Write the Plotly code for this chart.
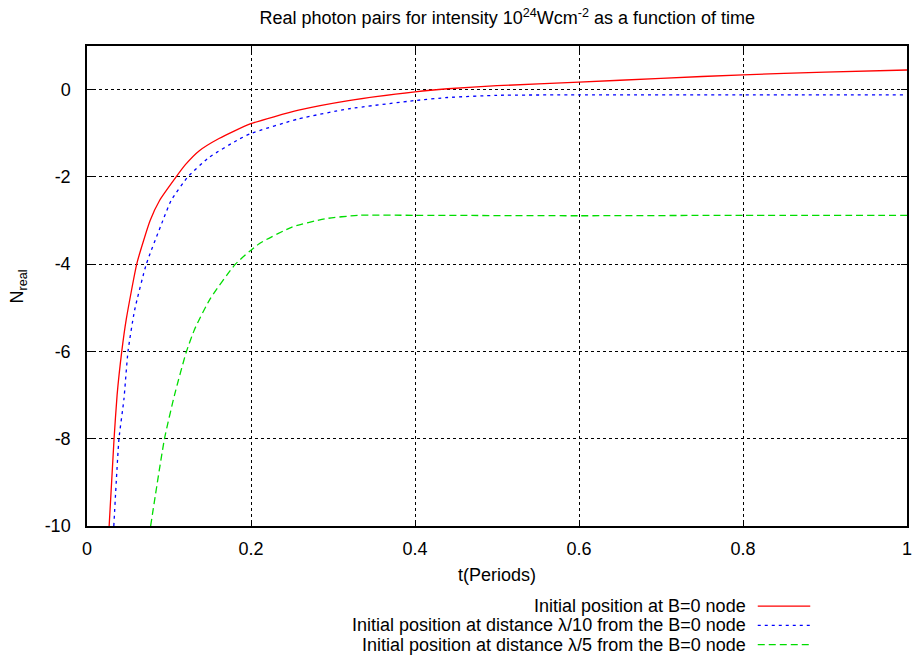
import plotly.graph_objects as go

# Time (in laser periods) and number of real photon pairs for each start position
t_node = [0.027, 0.033, 0.0367, 0.0424, 0.048, 0.061, 0.077, 0.0885, 0.1087, 0.12,
          0.137, 0.161, 0.199, 0.258, 0.319, 0.40, 0.44, 0.5, 0.6, 0.7, 0.8, 0.9, 1.0]
n_node = [-10, -8, -7, -6, -5.25, -3.97, -3.0, -2.54, -2.0, -1.72,
          -1.40, -1.12, -0.785, -0.47, -0.25, -0.05, 0.02, 0.09, 0.17, 0.26, 0.34, 0.40, 0.45]

t_l10 = [0.0327, 0.039, 0.045, 0.050, 0.058, 0.0723, 0.0925, 0.1026, 0.123, 0.149,
         0.185, 0.199, 0.258, 0.319, 0.40, 0.44, 0.5, 0.6, 0.8, 1.0]
n_l10 = [-10, -8, -7.1, -6, -5.06, -4, -3.0, -2.54, -2.0, -1.55,
         -1.14, -1.01, -0.67, -0.44, -0.25, -0.18, -0.13, -0.12, -0.12, -0.12]

t_l5 = [0.0776, 0.0945, 0.1067, 0.1208, 0.131, 0.15, 0.181, 0.21, 0.25, 0.29,
        0.331, 0.4, 0.6, 0.8, 1.0]
n_l5 = [-10, -8, -7.0, -6.03, -5.5, -4.8, -4, -3.53, -3.15, -2.96,
        -2.88, -2.88, -2.89, -2.88, -2.88]

x_ticks = [0, 0.2, 0.4, 0.6, 0.8, 1]
x_tick_text = ["0", "0.2", "0.4", "0.6", "0.8", "1"]
y_ticks = [-10, -8, -6, -4, -2, 0]
y_tick_text = ["-10", "-8", "-6", "-4", "-2", "0"]

legend_names = [
    "Initial position at B=0 node",
    "Initial position at distance \u03bb/10 from the B=0 node",
    "Initial position at distance \u03bb/5 from the B=0 node",
]
colors = ["#ff0000", "#0000ff", "#00dd00"]
dashes = ["solid", "3px,4px", "7px,4px"]

FONT = "Liberation Sans, Arial, sans-serif"
FS = 18

fig = go.Figure()
for tx, ny, c, d, name in zip([t_node, t_l10, t_l5], [n_node, n_l10, n_l5],
                              colors, dashes, legend_names):
    fig.add_trace(go.Scatter(x=tx, y=ny, mode="lines", name=name,
                             line=dict(color=c, width=1.3, dash=d,
                                       shape="spline", smoothing=0.5),
                             showlegend=False))

axis_common = dict(
    showline=True, linecolor="black", linewidth=1.5, mirror="allticks",
    ticks="inside", ticklen=6, tickcolor="black", tickwidth=1,
    showgrid=True, gridcolor="black", gridwidth=1, griddash="dot",
    zeroline=False, tickfont=dict(size=FS, color="black", family=FONT),
)

fig.update_xaxes(range=[0, 1], tickvals=x_ticks, ticktext=x_tick_text,
                 ticklabelstandoff=6, **axis_common)
fig.update_yaxes(range=[-10, 1], tickvals=y_ticks, ticktext=y_tick_text,
                 ticklabelstandoff=11, **axis_common)

text_font = dict(size=FS, family=FONT, color="black")
annotations = [
    dict(text="N<sub>real</sub>", xref="paper", yref="paper", x=-0.0836, y=0.5,
         xanchor="center", yanchor="middle", textangle=-90, showarrow=False,
         font=text_font),
    dict(text="t(Periods)", xref="paper", yref="paper", x=0.5, y=-0.102,
         xanchor="center", yanchor="middle", showarrow=False, font=text_font),
]
shapes = []
legend_y = [-0.167, -0.207, -0.247]
for name, c, d, ly in zip(legend_names, colors, dashes, legend_y):
    annotations.append(dict(text=name, xref="paper", yref="paper", x=0.806, y=ly,
                            xanchor="right", yanchor="middle", showarrow=False,
                            font=text_font))
    shapes.append(dict(type="line", xref="paper", yref="paper",
                       x0=0.818, x1=0.882, y0=ly, y1=ly,
                       line=dict(color=c, width=1.3, dash=d)))

fig.update_layout(
    width=919, height=655,
    margin=dict(l=87, r=7, t=46, b=129),
    paper_bgcolor="white", plot_bgcolor="white",
    title=dict(text="Real photon pairs for intensity 10<sup>24</sup>Wcm<sup>-2</sup> as a function of time",
               x=0.552, xanchor="center", y=0.9725, yanchor="middle",
               font=text_font),
    annotations=annotations, shapes=shapes,
    font=text_font,
)

fig.write_html("out.html")
